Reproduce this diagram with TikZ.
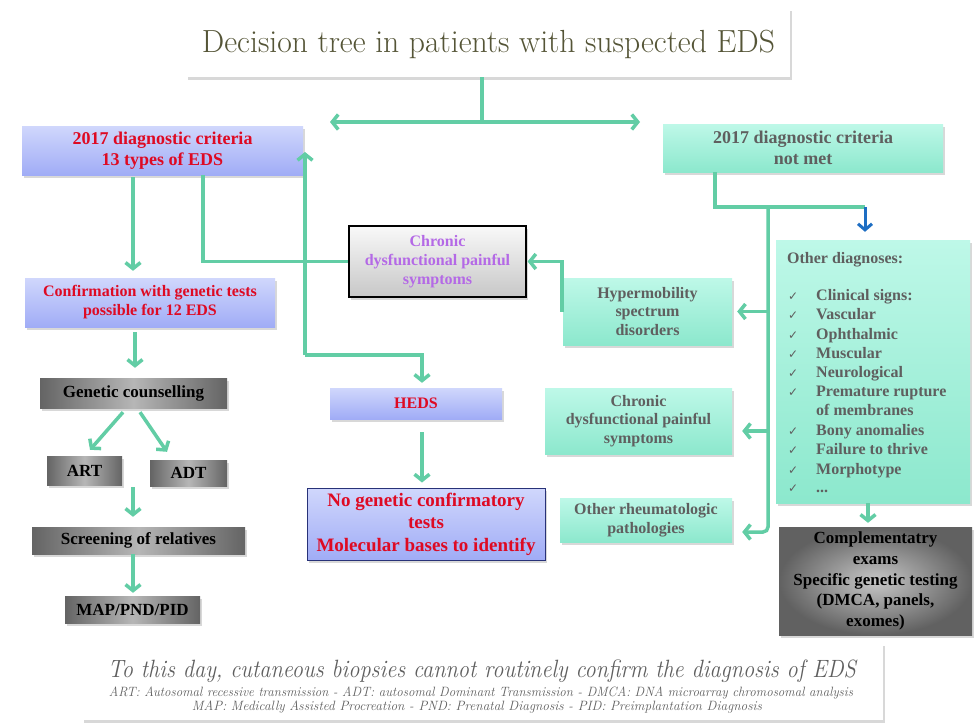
\documentclass[tikz,border=0pt]{standalone}
\usepackage{graphicx}
\usepackage{fontspec}
\newfontfamily\tnr{Liberation Serif}
\newfontfamily\dejavu{DejaVu Sans}
\usetikzlibrary{arrows.meta,shadows,calc}
\definecolor{tealln}{RGB}{98,205,165}
\definecolor{bluearr}{RGB}{30,110,195}
\definecolor{redtxt}{RGB}{222,10,35}
\definecolor{graytxt}{RGB}{95,95,95}
\definecolor{purptxt}{RGB}{180,105,230}
\definecolor{titletxt}{RGB}{85,85,55}
\definecolor{bluetop}{RGB}{208,215,252}
\definecolor{bluebot}{RGB}{160,172,246}
\definecolor{tealtop}{RGB}{190,248,232}
\definecolor{tealbot}{RGB}{140,232,205}
\definecolor{gdark}{RGB}{100,100,100}
\definecolor{glight}{RGB}{182,182,182}
\definecolor{nbord}{RGB}{40,50,120}
\tikzset{
  ln/.style={draw=tealln, line width=3.5pt},
  arr/.style={ln, -{Straight Barb[length=6pt,width=15pt]}},
  shad/.style={drop shadow={shadow xshift=2pt, shadow yshift=-3pt, opacity=0.3}},
  box/.style={rectangle, inner sep=2pt, align=center, font=\tnr\bfseries\fontsize{16}{19}\selectfont, shad},
  bluebox/.style={box, top color=bluetop, bottom color=bluebot, text=redtxt},
  tealbox/.style={box, top color=tealtop, bottom color=tealbot, text=graytxt},
  graybox/.style={box, left color=gdark, right color=gdark, middle color=glight, text=black, font=\tnr\bfseries\fontsize{17}{20}\selectfont},
  ckmark/.style={anchor=base west, inner sep=0pt, text=graytxt, font=\dejavu\fontsize{12}{12}\selectfont},
  litem/.style={anchor=base west, inner sep=0pt, text=graytxt, font=\tnr\bfseries\fontsize{16}{19}\selectfont},
  btext/.style={anchor=base, inner sep=0pt, text=graytxt},
}
\newcommand{\listitem}[3]{%
  \node[ckmark] (ck#1) at (788,#2) {✓};
  \node[litem] (it#1) at (816,#2) {#3};}
\begin{document}
\begin{tikzpicture}[x=1pt,y=-1pt]
\useasboundingbox (0,0) rectangle (974,724);
\fill[white] (0,0) rectangle (974,724);

% title
\node[box, fill=white, minimum width=604pt, minimum height=69pt] (title) at (488,42.5) {};
\node[btext, text=titletxt, font=\rmfamily\mdseries\fontsize{32}{36}\selectfont] (ttext) at (488.5,52) {\resizebox{573pt}{\height}{Decision tree in patients with suspected EDS}};

% main level
\node[bluebox, minimum width=281pt, minimum height=49pt, font=\tnr\bfseries\fontsize{18}{21}\selectfont] (crit) at (162.5,150.5) {2017 diagnostic criteria\\13 types of EDS};
\node[tealbox, minimum width=280pt, minimum height=48pt, font=\tnr\bfseries\fontsize{18}{21}\selectfont] (notmet) at (803,148) {2017 diagnostic criteria\\not met};

% left column
\node[bluebox, minimum width=250pt, minimum height=49pt] (confirm) at (150,302.5) {Confirmation with genetic tests\\possible for 12 EDS};
\node[graybox, minimum width=187pt, minimum height=30pt] (gc) at (133.5,393) {Genetic counselling};
\node[graybox, minimum width=75pt, minimum height=29pt] (art) at (84.5,470.5) {ART};
\node[graybox, minimum width=77pt, minimum height=26pt] (adt) at (188.5,473) {ADT};
\node[graybox, minimum width=213pt, minimum height=27pt] (screen) at (138.5,540.5) {Screening of relatives};
\node[graybox, minimum width=135pt, minimum height=27pt] (map) at (132.5,609.5) {MAP/PND/PID};

% middle
\node[box, minimum width=177pt, minimum height=71pt, draw=black, line width=1.2pt, top color=white!95!gray, bottom color=black!22, text=purptxt] (chron) at (437.5,261.5) {Chronic\\dysfunctional painful\\symptoms};
\node[bluebox, minimum width=172pt, minimum height=31pt] (heds) at (416,403.5) {HEDS};
\node[bluebox, minimum width=238pt, minimum height=72pt, draw=nbord, line width=1pt, font=\tnr\bfseries\fontsize{19}{22.5}\selectfont] (nogen) at (426,524) {No genetic confirmatory\\tests\\Molecular bases to identify};

% right
\node[tealbox, minimum width=169pt, minimum height=67pt, font=\tnr\bfseries\fontsize{16}{18.5}\selectfont] (hyp) at (647.5,311.5) {Hypermobility\\spectrum\\disorders};
\node[tealbox, minimum width=187pt, minimum height=66pt, font=\tnr\bfseries\fontsize{16}{18.5}\selectfont] (chron2) at (638.5,421) {Chronic\\dysfunctional painful\\symptoms};
\node[tealbox, minimum width=172pt, minimum height=44pt, font=\tnr\bfseries\fontsize{16}{19}\selectfont] (rheum) at (646,520) {Other rheumatologic\\pathologies};
\node[tealbox, minimum width=194pt, minimum height=263pt] (other) at (873,371.5) {};
\node[litem] (ohead) at (787,263) {Other diagnoses:};
\listitem{1}{300}{Clinical signs:}
\listitem{2}{319.5}{Vascular}
\listitem{3}{339}{Ophthalmic}
\listitem{4}{358.5}{Muscular}
\listitem{5}{377.5}{Neurological}
\listitem{6}{396.5}{Premature rupture}
\node[litem] (it6b) at (816,415.5) {of membranes};
\listitem{7}{435}{Bony anomalies}
\listitem{8}{454.5}{Failure to thrive}
\listitem{9}{474}{Morphotype}
\listitem{10}{492}{...}
\node[box, minimum width=193pt, minimum height=108pt, shading=radial, inner color=black!22, outer color=black!62, text=black, font=\tnr\bfseries\fontsize{17}{20.7}\selectfont] (comp) at (875.5,581) {Complementatry\\exams\\Specific genetic testing\\(DMCA, panels,\\exomes)};

% bottom
\node[box, fill=white, minimum width=801pt, minimum height=77pt] (bot) at (482.5,681.5) {};
\node[btext, font=\rmfamily\itshape\fontsize{25}{28}\selectfont] (bt1) at (482,677) {\resizebox{748pt}{\height}{To this day, cutaneous biopsies cannot routinely confirm the diagnosis of EDS}};
\node[btext, font=\rmfamily\itshape\fontsize{13.5}{15}\selectfont] (bt2) at (481,696) {\resizebox{744pt}{\height}{ART: Autosomal recessive transmission - ADT: autosomal Dominant Transmission - DMCA: DNA microarray chromosomal analysis}};
\node[btext, font=\rmfamily\itshape\fontsize{13.5}{15}\selectfont] (bt3) at (477,710) {\resizebox{570pt}{\height}{MAP: Medically Assisted Procreation - PND: Prenatal Diagnosis - PID: Preimplantation Diagnosis}};

% coordinates
\coordinate (tj) at (482,122);
\coordinate (tl) at (330,122);
\coordinate (tr) at (640,122);
\coordinate (j1) at (305,355);
\coordinate (aup) at (305,152);
\coordinate (j2) at (768,207);
\coordinate (j3) at (865,207);
\coordinate (c1) at (133,487);
\coordinate (c2) at ([yshift=-10pt]chron2.east);
\coordinate (c3) at ([yshift=-12pt]rheum.east);

% connectors
\draw[ln] (title.south -| tj) -- (tj);
\draw[ln, {Straight Barb[length=6pt,width=15pt]}-{Straight Barb[length=6pt,width=15pt]}] (tl) -- (tr);

\draw[arr, shorten <=2pt, shorten >=7pt] ([xshift=-29.5pt]crit.south) -- ([xshift=-17pt]confirm.north);
\draw[ln] ([xshift=40.5pt]crit.south) |- (chron.west);
\draw[arr] (j1) -- (aup);
\draw[arr, shorten >=5pt] (j1) -| ([xshift=6pt]heds.north);
\draw[arr, shorten >=1pt] ([xshift=-1pt]hyp.west) |- (chron.east);

\draw[ln] ([xshift=-88pt]notmet.south) |- (j2) -- (j3);
\draw[draw=bluearr, line width=3pt, -{Straight Barb[length=6pt,width=14pt]}, shorten >=8pt] (j3) -- (j3 |- other.north);
\draw[arr, rounded corners=5pt, shorten >=10pt] (j2) |- (c3);
\draw[arr, shorten >=5pt] (j2 |- hyp.east) -- (hyp.east);
\draw[arr, shorten >=10pt] (j2 |- c2) -- (c2);
\draw[arr, shorten >=4pt] ([xshift=-5pt]other.south) -- ([xshift=-7.5pt]comp.north);

\draw[arr, shorten <=5pt, shorten >=10pt] ([xshift=-15pt]confirm.south) -- ([xshift=1.5pt]gc.north);
\draw[arr] ([xshift=-10.5pt,yshift=-4pt]gc.south) -- ([xshift=5.5pt,yshift=6pt]art.north);
\draw[arr] ([xshift=6.5pt,yshift=-4pt]gc.south) -- ([xshift=-21.5pt,yshift=8pt]adt.north);
\draw[arr, shorten >=10pt] (c1) -- (c1 |- screen.north);
\draw[arr, shorten >=3pt] ([xshift=-5.5pt]screen.south) -- ([xshift=0.5pt]map.north);
\draw[arr, shorten <=13pt, shorten >=5pt] ([xshift=6pt]heds.south) -- ([xshift=-4pt]nogen.north);
\end{tikzpicture}
\end{document}
